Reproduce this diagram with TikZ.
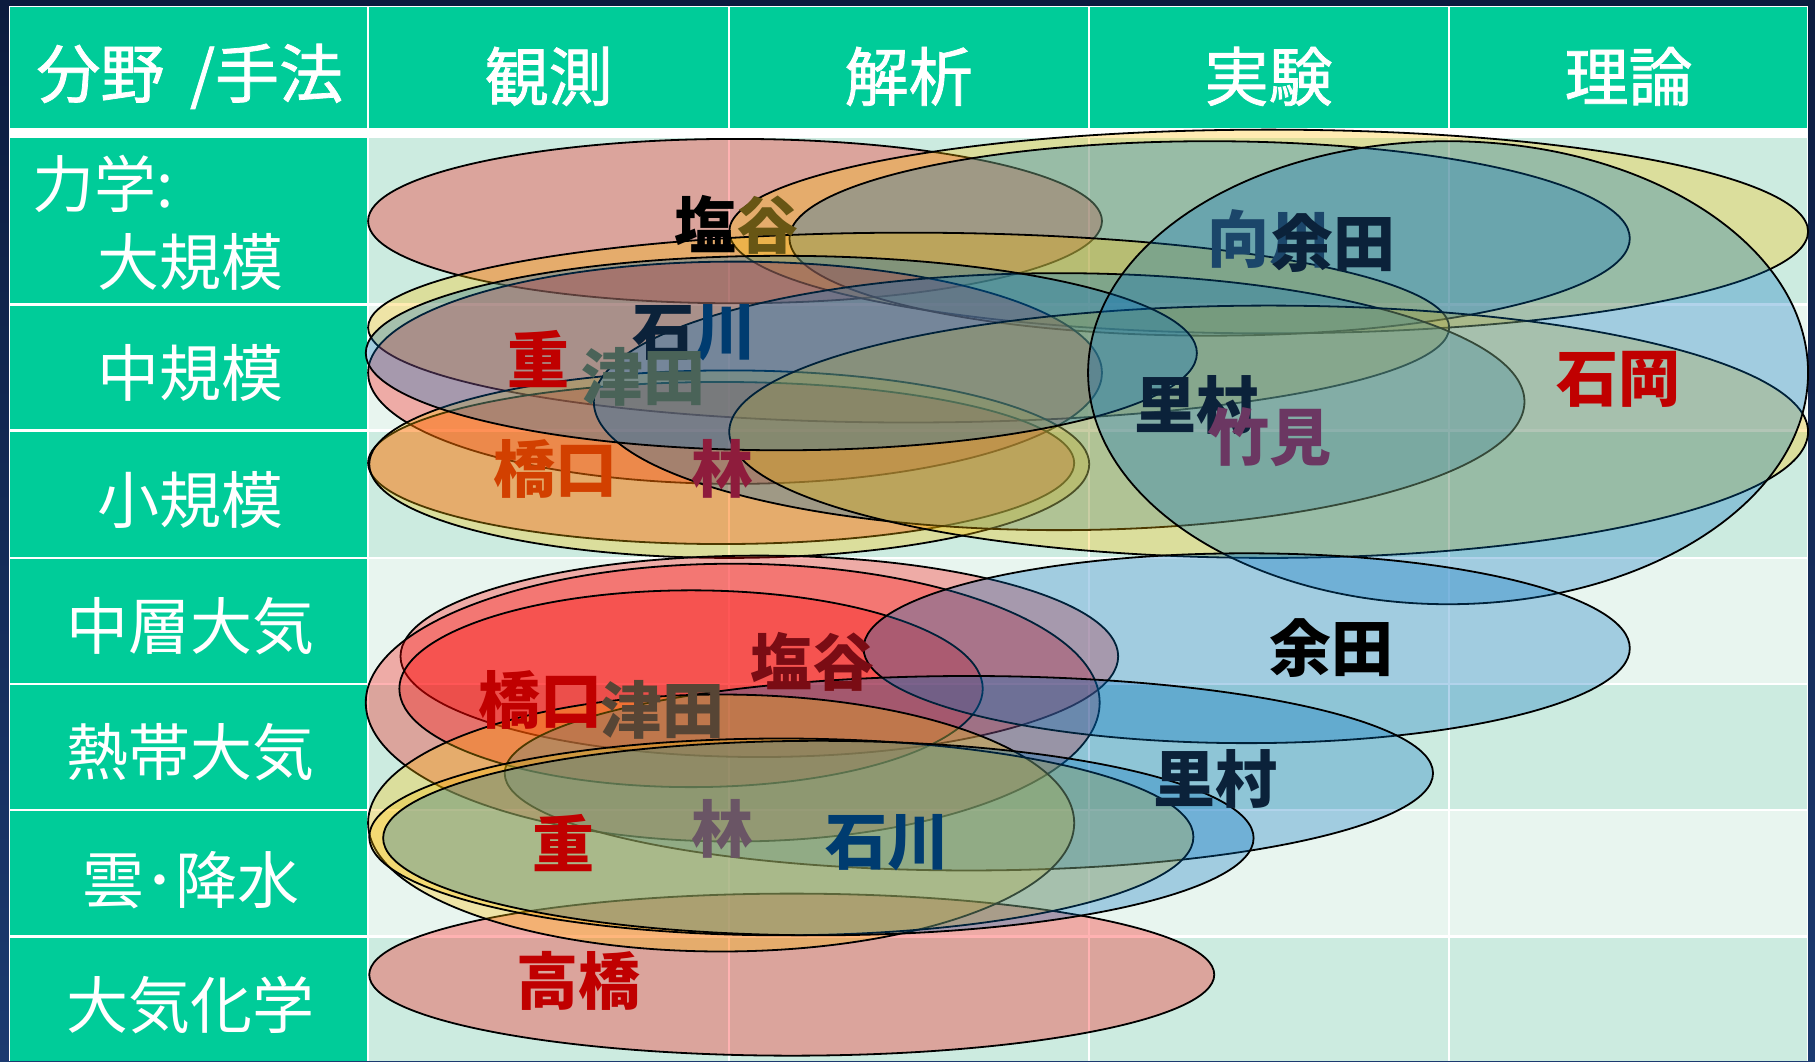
\documentclass[tikz,border=0pt]{standalone}
\usepackage{fontspec}
\newfontfamily\jp{Noto Sans CJK JP}
\newfontfamily\jpm[FakeBold=1.2]{Noto Sans CJK JP}
\definecolor{bgtop}{RGB}{12,27,62}
\definecolor{bgbot}{RGB}{28,58,112}
\definecolor{hdr}{RGB}{0,204,153}
\definecolor{bandA}{RGB}{204,235,224}
\definecolor{bandB}{RGB}{232,245,239}
\definecolor{elred}{RGB}{255,0,0}
\definecolor{elgold}{RGB}{255,192,0}
\definecolor{elblue}{RGB}{0,112,192}
\definecolor{nred}{RGB}{192,0,0}
\definecolor{nolive}{RGB}{104,86,20}
\definecolor{nnavyA}{RGB}{11,34,58}
\definecolor{nnavyB}{RGB}{0,60,112}
\definecolor{nmuk}{RGB}{27,70,106}
\definecolor{ntsudaA}{RGB}{74,99,88}
\definecolor{ntakemi}{RGB}{107,55,98}
\definecolor{nhashiA}{RGB}{210,64,0}
\definecolor{nhayaA}{RGB}{142,28,60}
\definecolor{nshioB}{RGB}{122,12,20}
\definecolor{ntsudaB}{RGB}{87,69,53}
\definecolor{nhayaB}{RGB}{106,85,101}
\begin{document}
\begin{tikzpicture}[x=0.57875pt,y=-0.57875pt,
  elr/.style={draw=black,line width=0.9pt,fill=elred,fill opacity=0.3},
  elg/.style={draw=black,line width=0.9pt,fill=elgold,fill opacity=0.3},
  elb/.style={draw=black,line width=0.9pt,fill=elblue,fill opacity=0.3},
  hd/.style={text=white,inner sep=0pt,font=\jpm\fontsize{32}{32}\selectfont},
  rl/.style={text=white,inner sep=0pt,font=\jp\fontsize{31}{31}\selectfont},
  nm/.style={inner sep=0pt,font=\jp\bfseries\fontsize{31}{31}\selectfont}]
\useasboundingbox (0,0) rectangle (1568,917);
% background
\shade[top color=bgtop,bottom color=bgbot] (0,0) rectangle (1568,917);
\fill[white] (8,5) rectangle (1562,917);
% header
\foreach \xa/\xb in {8/318,318/630,630/941,941/1252,1252/1562}
  \fill[hdr] (\xa+1,6) rectangle (\xb-1,111);
% body
\foreach \ya/\yb/\c in {118/263/bandA,263/372/bandB,372/482/bandA,482/591/bandB,591/700/bandA,700/809/bandB,809/918/bandA}{
  \fill[hdr] (9,\ya+1) rectangle (317,\yb-1);
  \foreach \xa/\xb in {318/630,630/941,941/1252,1252/1562}
    \fill[\c] (\xa+1,\ya+1) rectangle (\xb-1,\yb-1);
}
% header texts
\node[hd] (h0) at (164,66) {分野\hspace{0.4em}/手法};
\node[hd] (h1) at (474,66) {観測};
\node[hd] (h2) at (785,66) {解析};
\node[hd] (h3) at (1096,66) {実験};
\node[hd] (h4) at (1407,66) {理論};
% row labels
\node[rl,anchor=west] (r0a) at (28,159) {力学:};
\node[rl] (r0b) at (165,226) {大規模};
\node[rl] (r1) at (165,322) {中規模};
\node[rl] (r2) at (165,432) {小規模};
\node[rl] (r3) at (165,541) {中層大気};
\node[rl] (r4) at (165,650) {熱帯大気};
\node[rl] (r5) at (165,760) {雲･降水};
\node[rl] (r6) at (165,868) {大気化学};
% upper group ellipses (dynamics)
\draw[elr] (635,191) ellipse [x radius=317, y radius=71];
\draw[elg] (1096,200) ellipse [x radius=466, y radius=88];
\draw[elb] (1045,206) ellipse [x radius=363, y radius=84];
\draw[elg] (785,283) ellipse [x radius=467, y radius=82];
\draw[elr] (635,322) ellipse [x radius=317, y radius=96];
\draw[elr] (623,400) ellipse [x radius=305, y radius=70];
\draw[elg] (630,401) ellipse [x radius=311, y radius=81];
\draw[elb] (915,347) ellipse [x radius=402, y radius=111];
\draw[elg] (1096,373) ellipse [x radius=466, y radius=109];
\draw[elb] (675,305) ellipse [x radius=359, y radius=84];
\draw[elb] (1251,322) ellipse [x radius=311, y radius=200];
% lower group ellipses
\draw[elr] (684,842) ellipse [x radius=365, y radius=70];
\draw[elr] (656,567) ellipse [x radius=310, y radius=87];
\draw[elr] (633,607) ellipse [x radius=317, y radius=120];
\draw[elr] (597,595) ellipse [x radius=252, y radius=85];
\draw[elb] (1077,560) ellipse [x radius=331, y radius=82];
\draw[elb] (837,668) ellipse [x radius=401, y radius=84];
\draw[elg] (623,711) ellipse [x radius=305, y radius=111];
\draw[elg] (675,723) ellipse [x radius=356, y radius=85];
\draw[elb] (707,724) ellipse [x radius=376, y radius=84];
% names, upper group
\node[nm] (a1) at (636,194) {\textcolor{black}{塩}\textcolor{nolive}{谷}};
\node[nm,text=nmuk] (a2) at (1097,207) {向川};
\node[nm,text=nnavyA] (a3) at (1152,210) {余田};
\node[nm] (a4) at (600,287) {\textcolor{nnavyA}{石}\textcolor{nnavyB}{川}};
\node[nm,text=nred] (a5) at (465,310) {重};
\node[nm,text=ntsudaA] (a6) at (556,326) {津田};
\node[nm,text=nnavyA] (a7) at (1034,350) {里村};
\node[nm,text=ntakemi] (a8) at (1097,378) {竹見};
\node[nm,text=nred] (a9) at (1398,328) {石岡};
\node[nm,text=nhashiA] (a10) at (480,405) {橋口};
\node[nm,text=nhayaA] (a11) at (624,405) {林};
% names, lower group
\node[nm,text=nshioB] (b1) at (702,572) {塩谷};
\node[nm,text=black] (b2) at (1150,560) {余田};
\node[nm,text=nred] (b3) at (467,605) {橋口};
\node[nm,text=ntsudaB] (b4) at (572,613) {津田};
\node[nm,text=nnavyA] (b5) at (1050,673) {里村};
\node[nm,text=nred] (b6) at (487,728) {重};
\node[nm,text=nhayaB] (b7) at (624,716) {林};
\node[nm,text=nnavyB] (b8) at (767,728) {石川};
\node[nm,text=nred] (b9) at (500,847) {高橋};
\end{tikzpicture}
\end{document}
